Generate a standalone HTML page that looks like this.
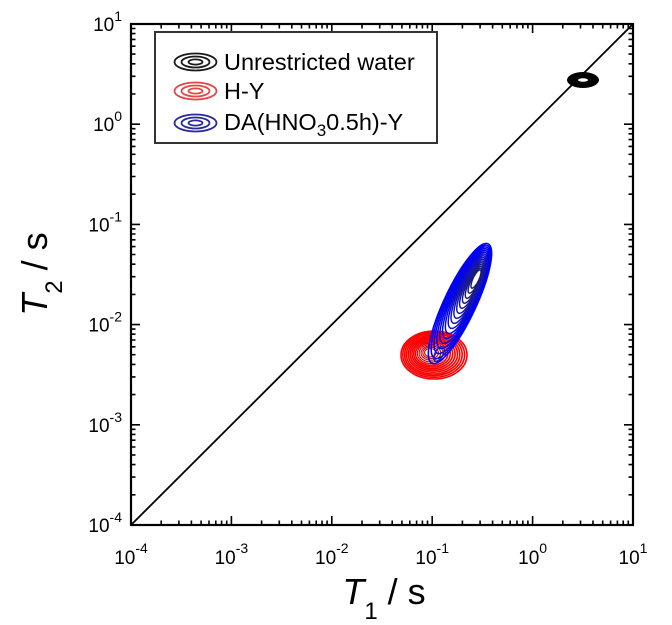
<!DOCTYPE html>
<html>
<head>
<meta charset="utf-8">
<style>
html,body{margin:0;padding:0;background:#fff;}
svg{display:block;}
text{font-family:"Liberation Sans",Arial,sans-serif;fill:#000;}
</style>
</head>
<body>
<svg width="672" height="625" viewBox="0 0 672 625" xmlns="http://www.w3.org/2000/svg">
<defs>
<g id="tk" stroke="#000" stroke-width="1.6" fill="none">
<path d="M0 0v-9 M30.2 0v-4.5 M47.9 0v-4.5 M60.4 0v-4.5 M70.1 0v-4.5 M78 0v-4.5 M84.8 0v-4.5 M90.6 0v-4.5 M95.7 0v-4.5"/>
</g>
</defs>
<rect width="672" height="625" fill="#fff"/>

<!-- ticks bottom -->
<use href="#tk" transform="translate(131,525)"/>
<use href="#tk" transform="translate(231.4,525)"/>
<use href="#tk" transform="translate(331.8,525)"/>
<use href="#tk" transform="translate(432.2,525)"/>
<use href="#tk" transform="translate(532.6,525)"/>
<!-- ticks top -->
<use href="#tk" transform="matrix(1,0,0,-1,131,24)"/>
<use href="#tk" transform="matrix(1,0,0,-1,231.4,24)"/>
<use href="#tk" transform="matrix(1,0,0,-1,331.8,24)"/>
<use href="#tk" transform="matrix(1,0,0,-1,432.2,24)"/>
<use href="#tk" transform="matrix(1,0,0,-1,532.6,24)"/>
<!-- ticks left -->
<use href="#tk" transform="matrix(0,-1,-1,0,131,525)"/>
<use href="#tk" transform="matrix(0,-1,-1,0,131,424.8)"/>
<use href="#tk" transform="matrix(0,-1,-1,0,131,324.6)"/>
<use href="#tk" transform="matrix(0,-1,-1,0,131,224.4)"/>
<use href="#tk" transform="matrix(0,-1,-1,0,131,124.2)"/>
<!-- ticks right -->
<use href="#tk" transform="matrix(0,-1,1,0,633,525)"/>
<use href="#tk" transform="matrix(0,-1,1,0,633,424.8)"/>
<use href="#tk" transform="matrix(0,-1,1,0,633,324.6)"/>
<use href="#tk" transform="matrix(0,-1,1,0,633,224.4)"/>
<use href="#tk" transform="matrix(0,-1,1,0,633,124.2)"/>

<!-- frame -->
<rect x="131" y="24" width="502" height="501" fill="none" stroke="#000" stroke-width="2.2"/>

<!-- diagonal -->
<line x1="131" y1="525" x2="633" y2="24" stroke="#000" stroke-width="1.8"/>

<!-- black blob -->
<ellipse cx="583" cy="80" rx="16" ry="8" fill="#000"/>
<ellipse cx="583" cy="80" rx="5" ry="1.8" fill="#fff"/>

<!-- red contours -->
<g fill="none" stroke="#ff0000" stroke-width="1.6">
<ellipse cx="434" cy="355" rx="33" ry="24"/>
<ellipse cx="433.7" cy="354.8" rx="30.9" ry="22.5"/>
<ellipse cx="433.4" cy="354.6" rx="28.8" ry="21"/>
<ellipse cx="433.1" cy="354.5" rx="26.7" ry="19.5"/>
<ellipse cx="432.9" cy="354.3" rx="24.6" ry="18"/>
<ellipse cx="432.6" cy="354.1" rx="22.5" ry="16.4"/>
<ellipse cx="432.3" cy="353.9" rx="20.4" ry="14.9"/>
<ellipse cx="432" cy="353.7" rx="18.3" ry="13.4"/>
<ellipse cx="431.7" cy="353.6" rx="16.2" ry="11.8"/>
</g>
<g fill="none" stroke="#d00000" stroke-width="1.1">
<ellipse cx="431.4" cy="353.4" rx="14.1" ry="10.3"/>
<ellipse cx="431.1" cy="353.2" rx="12" ry="8.8"/>
<ellipse cx="430.9" cy="353" rx="9.9" ry="7.2"/>
<ellipse cx="430.6" cy="352.8" rx="7.8" ry="5.7"/>
<ellipse cx="430.3" cy="352.7" rx="5.7" ry="4.2"/>
</g>

<!-- blue contours -->
<g fill="none" stroke-width="1.5">
<ellipse cx="460" cy="303.5" rx="66" ry="16" stroke="#0000ff" transform="rotate(-64.8 460 303.5)"/>
<ellipse cx="461.07" cy="301.87" rx="62.27" ry="15.13" stroke="#0000fc" transform="rotate(-64.8 461.07 301.87)"/>
<ellipse cx="462.13" cy="300.23" rx="58.53" ry="14.27" stroke="#0000f8" transform="rotate(-64.8 462.13 300.23)"/>
<ellipse cx="463.2" cy="298.6" rx="54.8" ry="13.4" stroke="#0000f2" transform="rotate(-64.8 463.2 298.6)"/>
<ellipse cx="464.27" cy="296.97" rx="51.07" ry="12.53" stroke="#0202ec" transform="rotate(-64.8 464.27 296.97)"/>
<ellipse cx="465.33" cy="295.33" rx="47.33" ry="11.67" stroke="#0404e4" transform="rotate(-64.8 465.33 295.33)"/>
<ellipse cx="466.4" cy="293.7" rx="43.6" ry="10.8" stroke="#0606dc" transform="rotate(-64.8 466.4 293.7)"/>
<ellipse cx="467.47" cy="292.07" rx="39.87" ry="9.93" stroke="#0a0ad2" transform="rotate(-64.8 467.47 292.07)"/>
<ellipse cx="468.53" cy="290.43" rx="36.13" ry="9.07" stroke="#0e0ec6" transform="rotate(-64.8 468.53 290.43)"/>
<ellipse cx="469.6" cy="288.8" rx="32.4" ry="8.2" stroke="#1212b8" transform="rotate(-64.8 469.6 288.8)"/>
<ellipse cx="470.67" cy="287.17" rx="28.67" ry="7.33" stroke="#1515aa" transform="rotate(-64.8 470.67 287.17)"/>
<ellipse cx="471.73" cy="285.53" rx="24.93" ry="6.47" stroke="#18189c" transform="rotate(-64.8 471.73 285.53)"/>
<ellipse cx="472.8" cy="283.9" rx="21.2" ry="5.6" stroke="#1a1a90" transform="rotate(-64.8 472.8 283.9)"/>
<ellipse cx="473.87" cy="282.27" rx="17.47" ry="4.73" stroke="#1a1a86" transform="rotate(-64.8 473.87 282.27)"/>
<ellipse cx="474.93" cy="280.63" rx="13.73" ry="3.87" stroke="#1a1a80" transform="rotate(-64.8 474.93 280.63)"/>
<ellipse cx="476" cy="279" rx="10" ry="3" stroke="#1a1a78" transform="rotate(-64.8 476 279)"/>
<ellipse cx="439" cy="354" rx="8" ry="4" stroke="#2020a0" transform="rotate(-62 439 354)"/>
</g>

<!-- x tick labels -->
<g font-size="19" text-anchor="middle">
<text x="131" y="564">10<tspan font-size="14" dy="-11">-4</tspan></text>
<text x="231.4" y="564">10<tspan font-size="14" dy="-11">-3</tspan></text>
<text x="331.8" y="564">10<tspan font-size="14" dy="-11">-2</tspan></text>
<text x="432.2" y="564">10<tspan font-size="14" dy="-11">-1</tspan></text>
<text x="532.6" y="564">10<tspan font-size="14" dy="-11">0</tspan></text>
<text x="633" y="564">10<tspan font-size="14" dy="-11">1</tspan></text>
</g>
<!-- y tick labels -->
<g font-size="19" text-anchor="end">
<text x="122" y="532">10<tspan font-size="14" dy="-10">-4</tspan></text>
<text x="122" y="431.8">10<tspan font-size="14" dy="-10">-3</tspan></text>
<text x="122" y="331.6">10<tspan font-size="14" dy="-10">-2</tspan></text>
<text x="122" y="231.4">10<tspan font-size="14" dy="-10">-1</tspan></text>
<text x="122" y="131.2">10<tspan font-size="14" dy="-10">0</tspan></text>
<text x="122" y="31">10<tspan font-size="14" dy="-10">1</tspan></text>
</g>

<!-- axis titles -->
<text x="384" y="604" font-size="36" text-anchor="middle"><tspan font-style="italic">T</tspan><tspan font-size="24" dy="15">1</tspan><tspan dy="-15"> / s</tspan></text>
<text transform="translate(47,274) rotate(-90)" font-size="36" text-anchor="middle"><tspan font-style="italic">T</tspan><tspan font-size="24" dy="15">2</tspan><tspan dy="-15"> / s</tspan></text>

<!-- legend -->
<rect x="155" y="32" width="282" height="111" fill="#fff" stroke="#333" stroke-width="2"/>
<g fill="none" stroke-width="1.8">
<g stroke="#1a1a1a">
<ellipse cx="195.5" cy="62" rx="21" ry="8.5"/>
<ellipse cx="195.5" cy="62" rx="14" ry="5.5"/>
<ellipse cx="195.5" cy="62" rx="7" ry="2.6"/>
</g>
<g stroke="#e04848">
<ellipse cx="195.5" cy="91" rx="21" ry="8.5"/>
<ellipse cx="195.5" cy="91" rx="14" ry="5.5"/>
<ellipse cx="195.5" cy="91" rx="7" ry="2.6"/>
</g>
<g stroke="#2a2a9a">
<ellipse cx="195.5" cy="123" rx="21" ry="8.5"/>
<ellipse cx="195.5" cy="123" rx="14" ry="5.5"/>
<ellipse cx="195.5" cy="123" rx="7" ry="2.6"/>
</g>
</g>
<g font-size="23.5" fill="#111">
<text x="224" y="70">Unrestricted water</text>
<text x="224" y="99">H-Y</text>
<text x="224" y="130">DA(HNO<tspan font-size="17" dy="6">3</tspan><tspan dy="-6">0.5h)-Y</tspan></text>
</g>
</svg>
</body>
</html>
